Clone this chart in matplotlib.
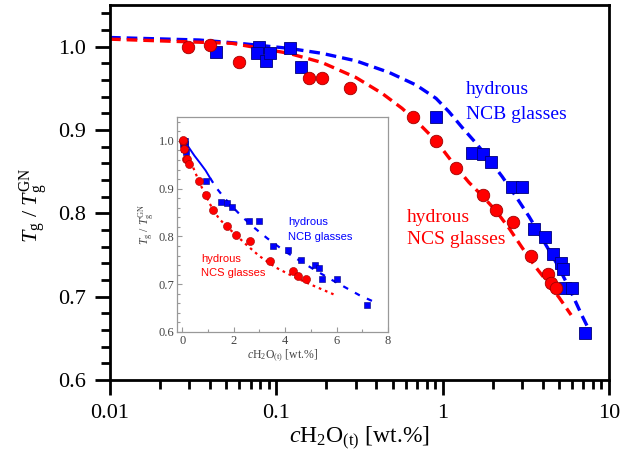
import matplotlib
matplotlib.use("Agg")
import matplotlib.pyplot as plt
from matplotlib.ticker import MultipleLocator, LogLocator, NullFormatter, FixedLocator, FixedFormatter
import numpy as np

plt.rcParams['font.family'] = ['Liberation Serif', 'DejaVu Serif']
plt.rcParams['mathtext.fontset'] = 'custom'
plt.rcParams['mathtext.rm'] = 'Liberation Serif'
plt.rcParams['mathtext.it'] = 'Liberation Serif:italic'
plt.rcParams['mathtext.bf'] = 'Liberation Serif:bold'

# ---- data ----
ncs_water = [0.0294, 0.0399, 0.0597, 0.157, 0.188, 0.277, 0.664, 0.912, 1.21,
             1.75, 2.10, 2.65, 3.40, 4.30, 4.49, 4.81]
ncs_tg = [1.000, 1.002, 0.982, 0.962, 0.962, 0.951, 0.916, 0.887, 0.855,
          0.822, 0.804, 0.790, 0.749, 0.727, 0.717, 0.710]

ncb_water = [0.0434, 0.0787, 0.077, 0.0867, 0.0916, 0.121, 0.141, 0.91, 1.50,
             1.75, 1.95, 2.61, 3.00, 3.55, 4.13, 4.61, 5.15, 5.30, 5.45, 6.00, 7.18]
ncb_tg = [0.994, 1.000, 0.992, 0.983, 0.993, 0.999, 0.976, 0.916, 0.873,
          0.871, 0.862, 0.832, 0.832, 0.781, 0.771, 0.751, 0.740, 0.733, 0.710, 0.710, 0.656]

ncb_fit_water = [0.01, 0.0343, 0.06, 0.119, 0.188, 0.301, 0.477, 0.692, 0.912,
                 1.09, 1.31, 1.59, 1.90, 2.28, 2.76, 3.31, 3.96, 4.81, 5.75, 6.89, 7.38]
ncb_fit_tg = [1.011, 1.008, 1.004, 0.998, 0.992, 0.983, 0.969, 0.954, 0.938,
              0.922, 0.903, 0.884, 0.865, 0.844, 0.820, 0.796, 0.770, 0.741, 0.711, 0.677, 0.665]

ncs_fit_water = [0.01, 0.0542, 0.119, 0.188, 0.301, 0.432, 0.570, 0.751, 0.912,
                 1.05, 1.21, 1.44, 1.73, 2.09, 2.51, 3.00, 3.64, 4.36, 5.01, 5.92]
ncs_fit_tg = [1.009, 1.004, 0.992, 0.981, 0.963, 0.944, 0.926, 0.904, 0.887,
              0.871, 0.855, 0.837, 0.821, 0.803, 0.782, 0.759, 0.735, 0.715, 0.699, 0.678]

main_xticks = [0.01, 0.1, 1, 10]
main_xticklabels = ['0.01', '0.1', '1', '10']
main_yticks = [0.6, 0.7, 0.8, 0.9, 1.0]
inset_xticks = [0, 2, 4, 6, 8]
inset_yticks = [0.6, 0.7, 0.8, 0.9, 1.0]

RED = '#ff0000'
BLUE = '#0000ff'
W, H = 620, 459

fig = plt.figure(figsize=(6.2, 4.59), dpi=100)
ax = fig.add_axes([110/W, 1-380/H, 499/W, 375/H])

ax.plot(ncb_fit_water, ncb_fit_tg, color=BLUE, lw=2.4, ls=(0, (3.2, 1.8)), zorder=2)
ax.plot(ncs_fit_water, ncs_fit_tg, color=RED, lw=2.4, ls=(0, (3.2, 1.8)), zorder=2)
ax.plot(ncb_water, ncb_tg, ls='none', marker='s', ms=8.6, mfc=BLUE, mec='#00007a', mew=0.6, zorder=3)
ax.plot(ncs_water, ncs_tg, ls='none', marker='o', ms=9.0, mfc=RED, mec='#a00000', mew=0.6, zorder=4)

ax.set_xscale('log')
ax.set_xlim(0.01, 10)
ax.set_ylim(0.6, 1.05)
ax.xaxis.set_major_locator(FixedLocator(main_xticks))
ax.xaxis.set_major_formatter(FixedFormatter(main_xticklabels))
ax.xaxis.set_minor_locator(LogLocator(base=10, subs=np.arange(2, 10)))
ax.xaxis.set_minor_formatter(NullFormatter())
ax.yaxis.set_major_locator(FixedLocator(main_yticks))
ax.set_yticklabels(['0.6', '0.7', '0.8', '0.9', '1.0'])
ax.yaxis.set_minor_locator(MultipleLocator(0.02))
for s in ax.spines.values():
    s.set_linewidth(2.0)
ax.tick_params(which='major', direction='out', length=11, width=2.0, labelsize=16, pad=6,
               top=False, right=False)
ax.tick_params(which='minor', direction='out', length=6.5, width=2.0, top=False, right=False)

ax.set_xlabel(r'$c$H$_2$O$_{\mathrm{(t)}}$ [wt.%]', fontsize=17, labelpad=2)
ax.set_ylabel(r'$T_{\mathrm{g}}$ / $T_{\mathrm{g}}^{\mathrm{GN}}$', fontsize=16)
ax.yaxis.set_label_coords(-0.12, 0.467)

def ftext(x, y, s, **kw):
    fig.text(x/W, 1-y/H, s, va='center', ha='left', **kw)

ftext(466, 90, 'hydrous', color=BLUE, fontsize=14)
ftext(466, 115, 'NCB glasses', color=BLUE, fontsize=14)
ftext(407, 217, 'hydrous', color=RED, fontsize=14)
ftext(407, 240, 'NCS glasses', color=RED, fontsize=14)

# ---- inset ----
GRAY = '#999999'
DARK = '#444444'
ins = fig.add_axes([177/W, 1-332/H, 211/W, 215/H])
ins.set_xlim(-0.2, 8)
ins.set_ylim(0.6, 1.05)

nb_x = np.array(ncb_fit_water)
nb_y = np.array(ncb_fit_tg)
solid = (nb_x >= 0.11) & (nb_x <= 1.1)
dash = nb_x >= 1.09
ins.plot(nb_x[solid], nb_y[solid], color=BLUE, lw=1.4, zorder=2)
ins.plot(nb_x[dash], nb_y[dash], color=BLUE, lw=1.6, ls=(0, (2.5, 3.5)), zorder=2)
ns_x = np.array(ncs_fit_water)
ns_y = np.array(ncs_fit_tg)
rs = ns_x >= 0.43
ins.plot(ns_x[rs], ns_y[rs], color=RED, lw=1.6, ls=(0, (1.2, 1.8)), zorder=2)

ins.plot(ncb_water, ncb_tg, ls='none', marker='s', ms=5.0, mfc=BLUE, mec='#00007a', mew=0.4, zorder=3)
ins.plot(ncs_water, ncs_tg, ls='none', marker='o', ms=5.8, mfc=RED, mec='#a00000', mew=0.4, zorder=4)

ins.xaxis.set_major_locator(FixedLocator(inset_xticks))
ins.xaxis.set_minor_locator(MultipleLocator(1))
ins.yaxis.set_major_locator(FixedLocator(inset_yticks))
ins.set_yticklabels(['0.6', '0.7', '0.8', '0.9', '1.0'])
ins.yaxis.set_minor_locator(MultipleLocator(0.02))
for s in ins.spines.values():
    s.set_linewidth(0.9)
    s.set_color(GRAY)
ins.tick_params(which='major', direction='in', length=3.5, width=0.8, color=GRAY,
                labelsize=9, labelcolor=DARK, pad=2, top=False, right=False)
ins.tick_params(which='minor', direction='in', length=2, width=0.8, color=GRAY,
                top=False, right=False)
ins.set_xlabel(r'$c$H$_2$O$_{\mathrm{(t)}}$ [wt.%]', fontsize=8.5, color=DARK, labelpad=1)
ins.set_ylabel(r'$T_{\mathrm{g}}$ / $T_{\mathrm{g}}^{\mathrm{GN}}$', fontsize=8.5, color=DARK, labelpad=2)

sans = ['Liberation Sans', 'DejaVu Sans']
ftext(288, 222, 'hydrous', color=BLUE, fontsize=8, family=sans)
ftext(288, 237, 'NCB glasses', color=BLUE, fontsize=8, family=sans)
ftext(201, 259, 'hydrous', color=RED, fontsize=8, family=sans)
ftext(201, 273, 'NCS glasses', color=RED, fontsize=8, family=sans)

fig.savefig('out.png', dpi=100)
